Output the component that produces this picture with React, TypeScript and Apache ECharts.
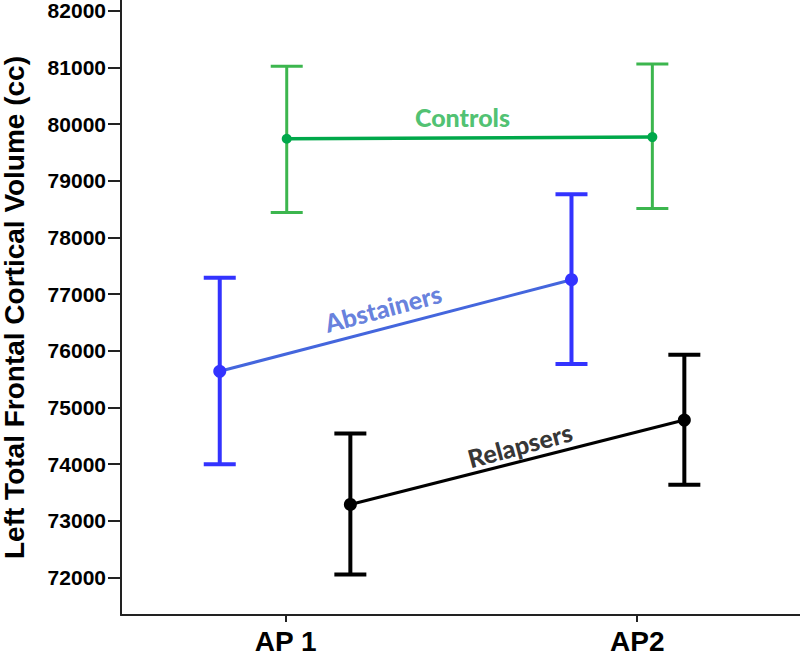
import React, { useEffect, useRef } from "react";
import * as echarts from "echarts";

const xCategories = ["AP 1", "AP2"];
const xCategoryPos = [1, 2];
const yTicks = [72000, 73000, 74000, 75000, 76000, 77000, 78000, 79000, 80000, 81000, 82000];

const controlsX = [1.003, 2.043];
const controlsMean = [79742, 79772];
const controlsLow = [78440, 78510];
const controlsHigh = [81020, 81060];

const abstainersX = [0.8125, 1.813];
const abstainersMean = [75640, 77255];
const abstainersLow = [74000, 75770];
const abstainersHigh = [77290, 78762];

const relapsersX = [1.184, 2.134];
const relapsersMean = [73290, 74780];
const relapsersLow = [72055, 73640];
const relapsersHigh = [74540, 75930];

const groupLabels = ["Controls", "Abstainers", "Relapsers"];
const labelX = [1.503, 1.277, 1.666];
const labelY = [80125, 76757, 74340];
const labelRotate = [0, 15, 15];

const AXIS_FONT = "'Liberation Sans', Arial, sans-serif";
const LABEL_FONT = "Lato, 'Open Sans', sans-serif";

function errorSeries(name: string, xs: number[], lo: number[], hi: number[], color: string, width: number) {
  return {
    type: "custom",
    name: name + " error",
    z: 2,
    silent: true,
    data: xs.map((x, i) => [x, lo[i], hi[i]]),
    renderItem: (_params: any, api: any) => {
      const x = api.value(0);
      const pLo = api.coord([x, api.value(1)]);
      const pHi = api.coord([x, api.value(2)]);
      const hw = 16;
      const style = { stroke: color, lineWidth: width };
      return {
        type: "group",
        children: [
          { type: "line", shape: { x1: pLo[0], y1: pLo[1], x2: pHi[0], y2: pHi[1] }, style },
          { type: "line", shape: { x1: pLo[0] - hw, y1: pLo[1], x2: pLo[0] + hw, y2: pLo[1] }, style },
          { type: "line", shape: { x1: pHi[0] - hw, y1: pHi[1], x2: pHi[0] + hw, y2: pHi[1] }, style },
        ],
      };
    },
  };
}

function lineSeries(name: string, xs: number[], ys: number[], lineColor: string, markColor: string, lw: number, size: number) {
  return {
    type: "line",
    name,
    z: 3,
    data: xs.map((x, i) => [x, ys[i]]),
    symbol: "circle",
    symbolSize: size,
    showSymbol: true,
    lineStyle: { color: lineColor, width: lw },
    itemStyle: { color: markColor },
  };
}

export default function App() {
  const ref = useRef<HTMLDivElement>(null);
  useEffect(() => {
    if (!ref.current) return;
    const chart = echarts.init(ref.current, null, { renderer: "svg" });
    const labelColors = ["#22b14c", "#4060d4", "#000000"];
    chart.setOption({
      animation: false,
      backgroundColor: "#ffffff",
      grid: { left: 121, right: 0, top: 0, bottom: 42, containLabel: false, outerBoundsMode: "none" },
      xAxis: {
        type: "value",
        min: 0.5316,
        max: 2.463,
        splitLine: { show: false },
        axisLine: { show: true, lineStyle: { color: "#222", width: 2 } },
        axisTick: { show: true, customValues: xCategoryPos, length: 7, lineStyle: { color: "#222", width: 2 } },
        axisLabel: {
          customValues: xCategoryPos,
          formatter: (v: number) => xCategories[xCategoryPos.indexOf(Math.round(v))] ?? "",
          color: "#000",
          fontFamily: AXIS_FONT,
          fontWeight: "bold",
          fontSize: 28,
          margin: 12,
        },
      },
      yAxis: {
        type: "value",
        min: 71340,
        max: 82190,
        name: "Left Total Frontal Cortical Volume (cc)",
        nameLocation: "middle",
        nameGap: 93,
        nameTextStyle: { color: "#000", fontFamily: AXIS_FONT, fontWeight: "bold", fontSize: 28 },
        splitLine: { show: false },
        axisLine: { show: true, lineStyle: { color: "#222", width: 2 } },
        axisTick: { show: true, customValues: yTicks, length: 13, lineStyle: { color: "#222", width: 2 } },
        axisLabel: {
          customValues: yTicks,
          formatter: (v: number) => String(v),
          color: "#000",
          fontFamily: AXIS_FONT,
          fontWeight: "bold",
          fontSize: 21,
          margin: 15,
        },
      },
      series: [
        errorSeries("Controls", controlsX, controlsLow, controlsHigh, "#3cb64e", 3),
        errorSeries("Abstainers", abstainersX, abstainersLow, abstainersHigh, "#3333ff", 4),
        errorSeries("Relapsers", relapsersX, relapsersLow, relapsersHigh, "#000000", 4),
        lineSeries("Controls", controlsX, controlsMean, "#00a84a", "#00a84a", 3.5, 10),
        lineSeries("Abstainers", abstainersX, abstainersMean, "#4466dd", "#3333ff", 3, 13),
        lineSeries("Relapsers", relapsersX, relapsersMean, "#000000", "#000000", 3, 13),
        {
          type: "scatter",
          name: "labels",
          z: 4,
          silent: true,
          symbolSize: 0,
          data: groupLabels.map((g, i) => ({
            value: [labelX[i], labelY[i]],
            label: {
              show: true,
              position: "inside",
              formatter: g,
              rotate: labelRotate[i],
              color: labelColors[i],
              fontFamily: LABEL_FONT,
              fontWeight: 900,
              fontSize: 25,
            },
          })),
        },
      ],
    });
    return () => chart.dispose();
  }, []);
  return <div ref={ref} style={{ position: "absolute", left: 0, top: 0, width: 800, height: 657 }} />;
}
